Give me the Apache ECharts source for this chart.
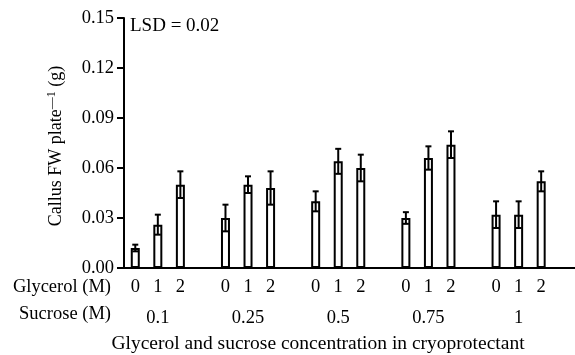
<!DOCTYPE html>
<html>
<head>
<meta charset="utf-8">
<script src="https://cdn.jsdelivr.net/npm/echarts@6/dist/echarts.min.js"></script>
<style>
  html, body { margin: 0; padding: 0; background: #fff; }
  #callus { width: 575px; height: 355px; }
</style>
</head>
<body>
<div id="callus"></div>
<script>
// 数据
var glycerolLevels = ['0', '1', '2'];
var sucroseLevels = ['0.1', '0.25', '0.5', '0.75', '1'];
var meanFW = [0.012, 0.026, 0.050, 0.030, 0.050, 0.048, 0.040, 0.064, 0.060, 0.030, 0.066, 0.074, 0.032, 0.032, 0.052];
var errFW = [0.002, 0.006, 0.008, 0.008, 0.005, 0.010, 0.006, 0.0075, 0.008, 0.0035, 0.007, 0.008, 0.008, 0.008, 0.006];
var yTicks = [0, 0.03, 0.06, 0.09, 0.12, 0.15];

var font = '"Liberation Serif", "Times New Roman", serif';

// 每组三根柱子 + 一个空位
var cats = [], sucCats = [], barData = [], errData = [];
sucroseLevels.forEach(function (s, g) {
    glycerolLevels.forEach(function (gl, i) {
        var k = g * 3 + i;
        cats.push(gl);
        sucCats.push(i === 1 ? s : '');
        barData.push(meanFW[k]);
        errData.push([cats.length - 1, meanFW[k] - errFW[k], meanFW[k] + errFW[k]]);
    });
    cats.push('');
    sucCats.push('');
    barData.push('-');
});

var callusChart = echarts.init(document.getElementById('callus'));
var option = {
    backgroundColor: '#fff',
    animation: false,
    textStyle: { fontFamily: font },
    grid: { left: 124, right: -3, top: 18, bottom: 87 },
    xAxis: [
        {
            type: 'category',
            data: cats,
            axisLine: { lineStyle: { color: '#000', width: 2 } },
            axisTick: { show: false },
            axisLabel: { interval: 0, margin: 10, color: '#000', fontSize: 18.5, fontFamily: font }
        },
        {
            type: 'category',
            data: sucCats,
            position: 'bottom',
            offset: 28,
            axisLine: { show: false },
            axisTick: { show: false },
            axisLabel: { interval: 0, margin: 13, color: '#000', fontSize: 18.5, fontFamily: font }
        }
    ],
    yAxis: {
        type: 'value',
        min: yTicks[0],
        max: yTicks[yTicks.length - 1],
        interval: 0.03,
        axisLine: { show: true, lineStyle: { color: '#000', width: 2 } },
        axisTick: { show: true, length: 7, lineStyle: { color: '#000', width: 2 } },
        axisLabel: {
            margin: 10, color: '#000', fontSize: 18.5, fontFamily: font,
            formatter: function (v) { return v.toFixed(2); }
        },
        splitLine: { show: false }
    },
    graphic: [
        { type: 'text', left: 130, top: 17, style: { text: 'LSD = 0.02', font: '19px ' + font, fill: '#000' } },
        { type: 'text', x: 111, y: 287, style: { text: 'Glycerol (M)', font: '18.5px ' + font, fill: '#000', align: 'right', verticalAlign: 'middle' } },
        { type: 'text', x: 111, y: 314, style: { text: 'Sucrose (M)', font: '18.5px ' + font, fill: '#000', align: 'right', verticalAlign: 'middle' } },
        { type: 'text', x: 318, y: 344, style: { text: 'Glycerol and sucrose concentration in cryoprotectant', font: '19.5px ' + font, fill: '#000', align: 'center', verticalAlign: 'middle' } },
        {
            type: 'text', x: 56, y: 146, rotation: Math.PI / 2,
            style: {
                text: 'Callus FW plate{sup|—1} (g)',
                font: '18px ' + font, fill: '#000', align: 'center', verticalAlign: 'middle',
                rich: { sup: { fontSize: 12, fontFamily: font, verticalAlign: 'top', lineHeight: 20, fill: '#000' } }
            }
        }
    ],
    series: [
        {
            type: 'bar',
            data: barData,
            barWidth: 9,
            itemStyle: { color: '#fff', borderColor: '#000', borderWidth: 2 }
        },
        {
            type: 'custom',
            data: errData,
            z: 5,
            renderItem: function (params, api) {
                var lo = api.coord([api.value(0), api.value(1)]);
                var hi = api.coord([api.value(0), api.value(2)]);
                var w = 3;
                var st = { stroke: '#000', lineWidth: 2 };
                return {
                    type: 'group',
                    children: [
                        { type: 'line', shape: { x1: lo[0], y1: lo[1], x2: hi[0], y2: hi[1] }, style: st },
                        { type: 'line', shape: { x1: lo[0] - w, y1: lo[1], x2: lo[0] + w, y2: lo[1] }, style: st },
                        { type: 'line', shape: { x1: hi[0] - w, y1: hi[1], x2: hi[0] + w, y2: hi[1] }, style: st }
                    ]
                };
            }
        }
    ]
};
callusChart.setOption(option);
</script>
</body>
</html>
